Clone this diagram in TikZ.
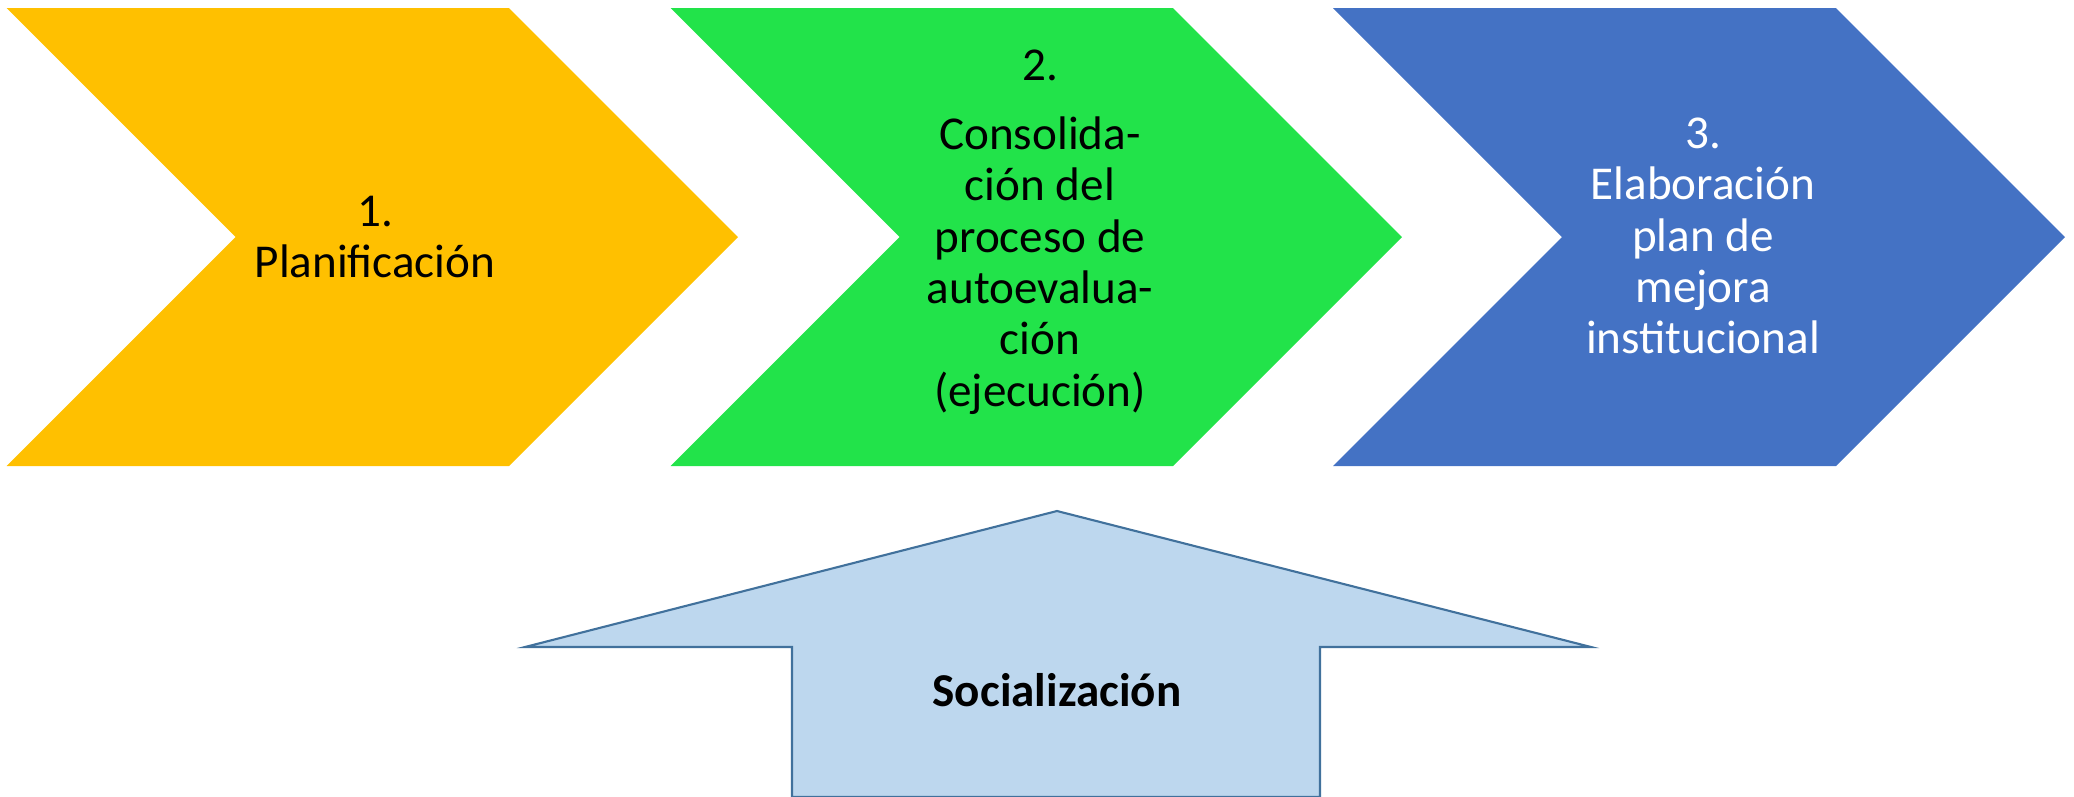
\documentclass[tikz,border=0pt]{standalone}
\usepackage{fontspec}
\setmainfont{Carlito}
\definecolor{amar}{HTML}{FFC000}
\definecolor{verd}{HTML}{22E34A}
\definecolor{azul}{HTML}{4472C4}
\definecolor{celf}{HTML}{BDD7EE}
\definecolor{celd}{HTML}{41719C}
\tikzset{ch/.style = {draw=none},
           so/.style = {fill=celf, draw=celd, line width=0.6pt, line join=miter},
           tx/.style = {align=center, inner sep=0pt, font=\fontsize{13.4}{14.6}\selectfont}}

\begin{document}
\begin{tikzpicture}[x=0.01cm, y=-0.01cm]
    \useasboundingbox (0,0) rectangle (2074,796);
    % chevrons
    \fill[ch, amar] (6.6,8) -- (509,8) -- (738,237) -- (509,466) -- (6.6,466) -- (235.6,237) -- cycle;
    \fill[ch, verd] (670.6,8) -- (1173,8) -- (1402,237) -- (1173,466) -- (670.6,466) -- (899.6,237) -- cycle;
    \fill[ch, azul] (1333,8) -- (1836,8) -- (2065,237) -- (1836,466) -- (1333,466) -- (1562,237) -- cycle;
    % arrow up
    \draw[so] (1057,511) -- (1591,647) -- (1320,647) -- (1320,797) -- (792,797) -- (792,647) -- (525,647) -- cycle;
    \node[tx] (p1) at (375,237) {1.\\Planificación};
    \node[tx] (p2) at (1040,232) {2.\\[5pt]Consolida-\\ción del\\proceso de\\autoevalua-\\ción\\(ejecución)};
    \node[tx, text=white] (p3) at (1703,236) {3.\\Elaboración\\plan de\\mejora\\institucional};
    \node[tx, font=\fontsize{13.4}{14.6}\selectfont\bfseries] (soc) at (1057,690) {Socialización};
\end{tikzpicture}
\end{document}
